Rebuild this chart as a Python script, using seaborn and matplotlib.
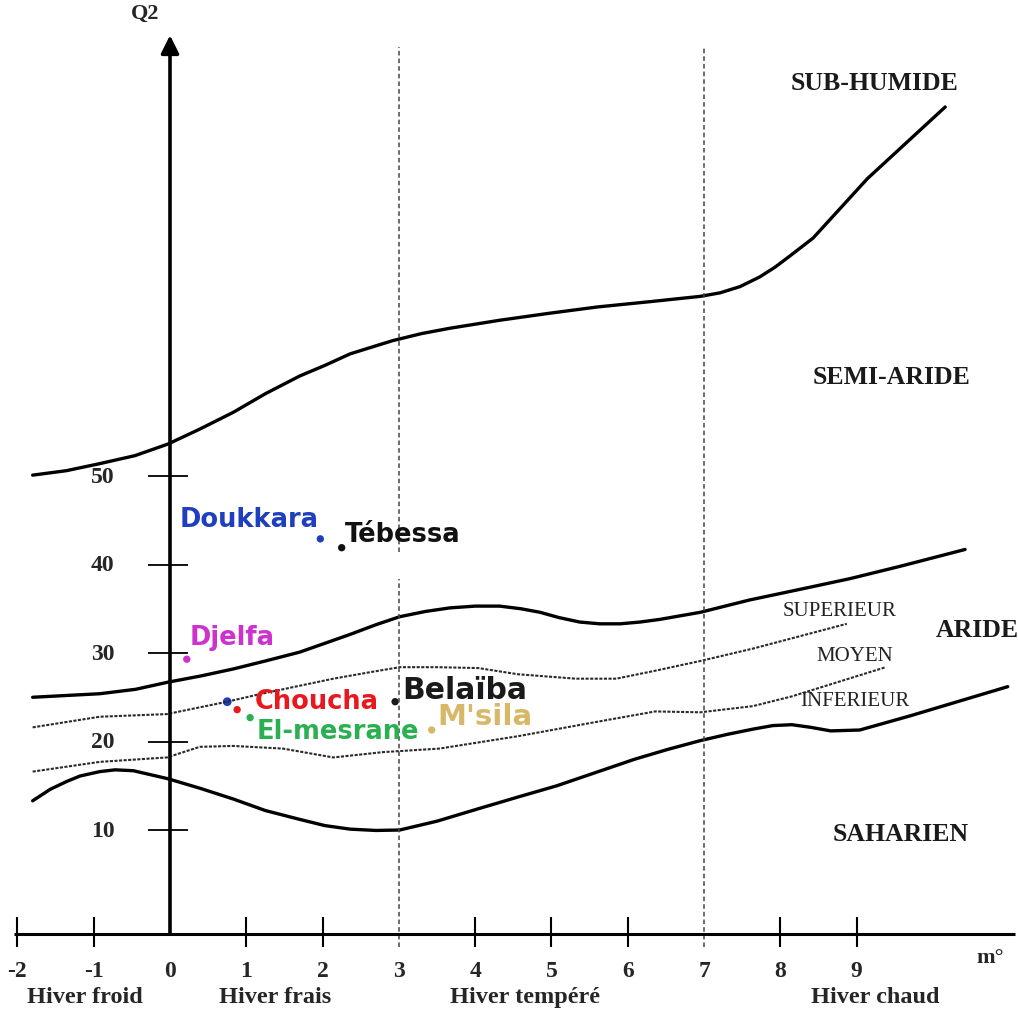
import matplotlib
matplotlib.use("Agg")
import matplotlib.pyplot as plt
import pandas as pd
import seaborn as sns

# Emberger climagram: m (deg C) on x, Q2 on y
X_TICKS = [-2, -1, 0, 1, 2, 3, 4, 5, 6, 7, 8, 9]
X_TICK_MARKS = [-2, -1, 1, 2, 4, 5, 6, 8, 9]
Y_TICKS = [10, 20, 30, 40, 50]
WINTER_LABELS = ["Hiver froid", "Hiver frais", "Hiver tempéré", "Hiver chaud"]
WINTER_POS = [-1.11, 1.38, 4.65, 9.24]
DIVIDERS = [3, 7]

# boundary sub-humide / semi-aride
SUBHUM_M = [-1.80, -1.36, -0.92, -0.46, -0.03, 0.39, 0.83, 1.25, 1.70, 2.03, 2.36, 2.62, 2.92,
            3.30, 3.67, 4.32, 4.98, 5.6, 6.29, 6.95, 7.21, 7.47, 7.73, 7.93, 8.13, 8.43,
            9.14, 10.16]
SUBHUM_Q = [50.1, 50.6, 51.4, 52.3, 53.6, 55.3, 57.2, 59.3, 61.3, 62.5, 63.8, 64.5, 65.3,
            66.1, 66.7, 67.6, 68.4, 69.1, 69.7, 70.3, 70.7, 71.4, 72.5, 73.6, 74.9, 76.9,
            83.6, 91.7]
# boundary semi-aride / aride
SEMI_M = [-1.80, -0.92, -0.45, -0.03, 0.4, 0.83, 1.25, 1.70, 2.03, 2.36, 2.70, 3.01, 3.35,
          3.67, 4.0, 4.32, 4.60, 4.85, 5.10, 5.37, 5.63, 5.90, 6.16, 6.42, 6.95, 7.60, 8.26,
          8.91, 9.57, 10.42]
SEMI_Q = [25.0, 25.4, 25.9, 26.7, 27.4, 28.2, 29.1, 30.1, 31.1, 32.1, 33.2, 34.1, 34.7,
          35.1, 35.3, 35.3, 35.0, 34.6, 34.0, 33.5, 33.3, 33.3, 33.5, 33.8, 34.6, 36.0, 37.2,
          38.4, 39.8, 41.7]
# boundary aride / saharien
SAHARA_M = [-1.80, -1.57, -1.35, -1.18, -0.92, -0.72, -0.48, -0.03, 0.4, 0.83, 1.25, 1.70,
            2.03, 2.36, 2.7, 3.01, 3.5, 4.04, 4.55, 5.07, 5.58, 6.09, 6.52, 6.95, 7.30, 7.64,
            7.90, 8.15, 8.40, 8.66, 9.04, 9.70, 10.98]
SAHARA_Q = [13.3, 14.6, 15.5, 16.1, 16.6, 16.8, 16.7, 15.8, 14.7, 13.5, 12.2, 11.2,
            10.5, 10.1, 9.95, 10.0, 11.0, 12.4, 13.7, 15.0, 16.5, 18.0, 19.1, 20.1, 20.8, 21.4,
            21.8, 21.9, 21.6, 21.2, 21.3, 22.9, 26.2]
# aride superieur / moyen
SUP_M = [-1.80, -0.92, -0.04, 0.75, 1.20, 1.70, 2.14, 2.60, 3.01, 3.50, 4.04, 4.56, 5.32,
         5.85, 6.36, 6.95, 7.64, 8.87]
SUP_Q = [21.6, 22.8, 23.1, 24.5, 25.4, 26.3, 27.1, 27.8, 28.4, 28.4, 28.3, 27.6, 27.1,
         27.1, 28.0, 29.1, 30.5, 33.3]
# aride moyen / inferieur
INF_M = [-1.80, -0.92, -0.04, 0.39, 0.83, 1.48, 2.14, 2.79, 3.53, 4.56, 5.58, 6.36, 6.95,
         7.64, 8.15, 9.38]
INF_Q = [16.6, 17.7, 18.2, 19.4, 19.5, 19.2, 18.2, 18.8, 19.2, 20.6, 22.2, 23.4, 23.3,
         24.0, 25.1, 28.4]

STATION_NAMES = ["Doukkara", "Tébessa", "Djelfa", "Choucha", "El-mesrane", "Belaïba", "M'sila"]
STATION_M = [1.97, 2.25, 0.22, 0.88, 1.05, 2.95, 3.43]
STATION_Q = [42.9, 41.9, 29.3, 23.6, 22.7, 24.5, 21.3]
STATION_COLORS = ["#1f3fbf", "#111111", "#cc33cc", "#e8191e", "#2ab050", "#1a1a1a", "#d8b868"]
LABEL_M = [0.13, 2.29, 0.26, 1.11, 1.14, 3.04, 3.51]
LABEL_Q = [45.1, 43.4, 31.8, 24.6, 21.2, 25.9, 22.9]
LABEL_SIZES = [18.5, 18.5, 18.5, 18.5, 18.5, 21.5, 21]
EXTRA_M = [0.75]
EXTRA_Q = [24.5]

ZONE_LABELS = ["SUB-HUMIDE", "SEMI-ARIDE", "SAHARIEN"]
ZONE_M = [9.24, 9.46, 9.57]
ZONE_Q = [94.5, 61.2, 9.55]
SUB_LABELS = ["SUPERIEUR", "MOYEN", "INFERIEUR"]
SUB_M = [8.78, 8.98, 8.98]
SUB_Q = [34.8, 29.7, 24.6]

sns.set_theme(style="white")
plt.rcParams["font.family"] = ["Liberation Serif", "DejaVu Serif"]

fig = plt.figure(figsize=(10.18, 10.12), dpi=100)
ax = fig.add_axes([0, 0, 1, 1])
ax.set_xlim(-2.228, 11.114)
ax.set_ylim(-10.45, 103.9)

AXIS_Q = -1.75

for mm, qq in [(SUBHUM_M, SUBHUM_Q), (SEMI_M, SEMI_Q), (SAHARA_M, SAHARA_Q)]:
    df = pd.DataFrame({"m": mm, "q": qq})
    sns.lineplot(data=df, x="m", y="q", sort=False, estimator=None, color="black",
                 lw=2.4, ax=ax)
for mm, qq in [(SUP_M, SUP_Q), (INF_M, INF_Q)]:
    df = pd.DataFrame({"m": mm, "q": qq})
    sns.lineplot(data=df, x="m", y="q", sort=False, estimator=None, color="#2a2a2a",
                 lw=1.5, ls=(0, (1.5, 0.7)), ax=ax)

# vertical winter dividers (gap at 3 behind the Tebessa label)
div_style = dict(color="#444444", lw=1.1, ls=(0, (3, 2)))
ax.vlines(DIVIDERS[0], 41.4, 98.5, **div_style)
ax.vlines(DIVIDERS[0], AXIS_Q - 1.5, 38.4, **div_style)
ax.vlines(DIVIDERS[1], AXIS_Q - 1.5, 98.5, **div_style)

# axes
ax.hlines(AXIS_Q, -2.04, 11.07, color="black", lw=2.2)
ax.vlines(X_TICK_MARKS, AXIS_Q - 1.5, AXIS_Q + 1.9, color="black", lw=1.5)
ax.annotate("", xy=(0, 99.8), xytext=(0, AXIS_Q),
            arrowprops=dict(arrowstyle="-|>,head_length=0.9,head_width=0.45",
                            color="black", lw=2.6, shrinkA=0, shrinkB=0))
ax.hlines(Y_TICKS, -0.29, 0.24, color="black", lw=1.3)

tick_font = dict(fontsize=17, fontweight="bold", ha="center", va="center")
for t in X_TICKS:
    ax.text(t, -5.9, str(t), **tick_font)
for t in Y_TICKS:
    ax.text(-0.88, t, str(t), **tick_font)
for lab, pos in zip(WINTER_LABELS, WINTER_POS):
    ax.text(pos, -8.8, lab, fontsize=17.5, fontweight="bold", ha="center", va="center")
ax.text(-0.33, 102.3, "Q2", fontsize=16, fontweight="bold", ha="center", va="center")
ax.text(10.75, -4.4, "m°", fontsize=16, fontweight="bold", ha="center", va="center")

for lab, mm, qq in zip(ZONE_LABELS, ZONE_M, ZONE_Q):
    ax.text(mm, qq, lab, fontsize=18.5, fontweight="bold", ha="center", va="center",
            color="#1a1a1a")
ax.text(10.03, 32.7, "ARIDE", fontsize=18.5, fontweight="bold", ha="left", va="center",
        color="#1a1a1a")
for lab, mm, qq in zip(SUB_LABELS, SUB_M, SUB_Q):
    ax.text(mm, qq, lab, fontsize=15, ha="center", va="center", color="#222222")

# stations
st = pd.DataFrame({"m": STATION_M, "q": STATION_Q, "name": STATION_NAMES})
sns.scatterplot(data=st, x="m", y="q", hue="name", palette=STATION_COLORS,
                s=28, edgecolor="none", legend=False, ax=ax)
sns.scatterplot(x=EXTRA_M, y=EXTRA_Q, color="#1f3fbf", s=40, edgecolor="none", ax=ax)
for name, mm, qq, c, fs in zip(STATION_NAMES, LABEL_M, LABEL_Q, STATION_COLORS, LABEL_SIZES):
    ax.text(mm, qq, name, fontsize=fs, fontweight="bold", color=c, ha="left", va="center",
            family=["DejaVu Sans"])

ax.set_axis_off()
fig.savefig("out.png", dpi=100, facecolor="white")
